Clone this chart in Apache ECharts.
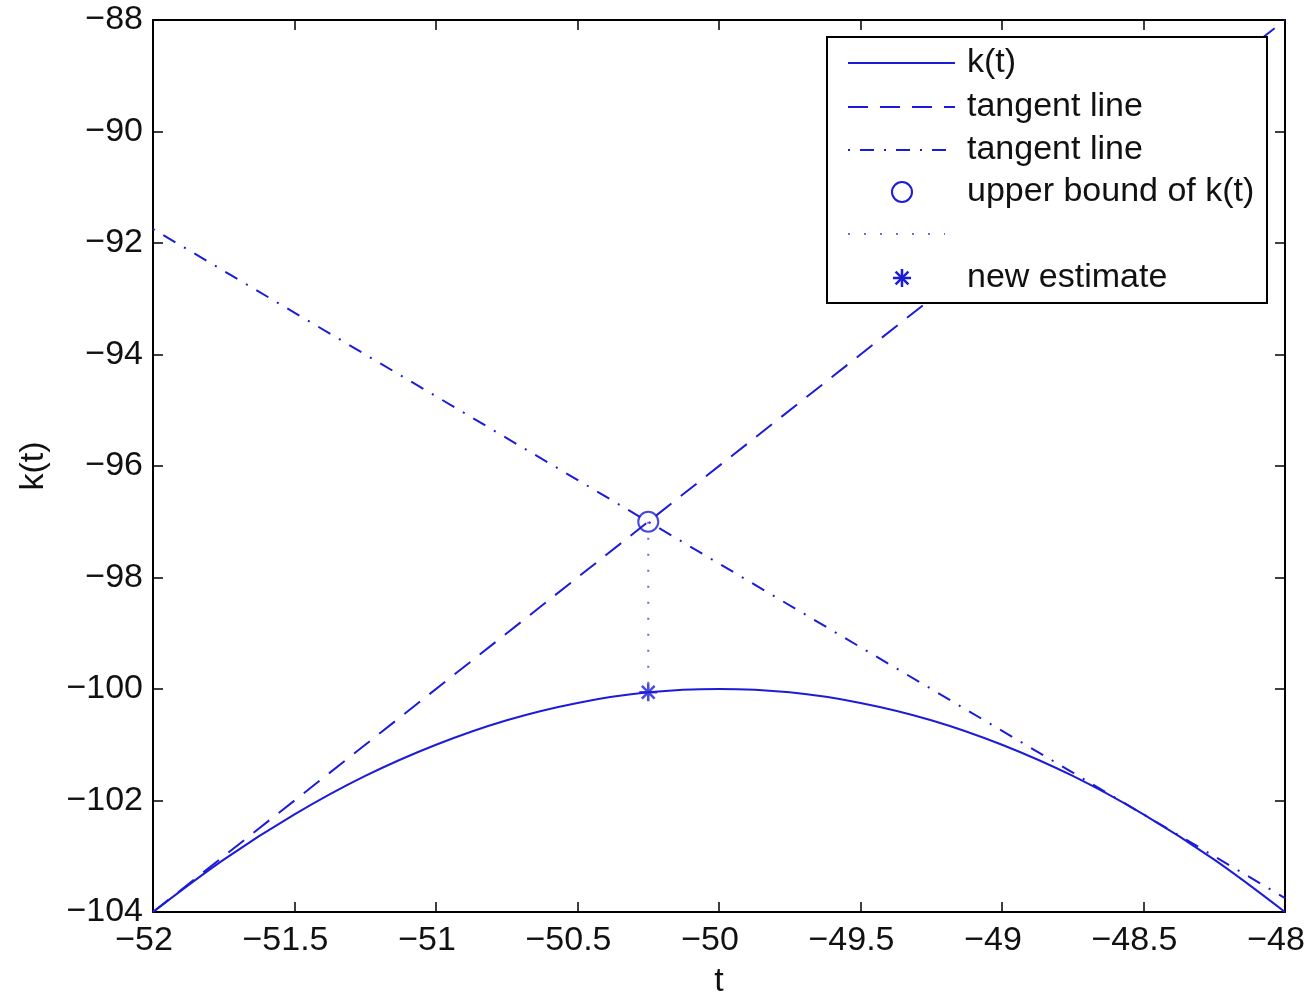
<!DOCTYPE html>
<html>
<head>
<meta charset="utf-8">
<script src="https://cdn.jsdelivr.net/npm/echarts@6/dist/echarts.min.js"></script>
<style>
  html, body { margin: 0; padding: 0; background: #fff; }
  #main { width: 1308px; height: 993px; }
</style>
</head>
<body>
<div id="main"></div>
<script>
// values
var tValues = [-52, -51.75, -51.5, -51.25, -51, -50.75, -50.5, -50.25, -50,
  -49.75, -49.5, -49.25, -49, -48.75, -48.5, -48.25, -48]
var kValues = [-104, -103.06, -102.25, -101.56, -101, -100.56, -100.25, -100.06, -100,
  -100.06, -100.25, -100.56, -101, -101.56, -102.25, -103.06, -104]
var tangent1 = [[-52, -104], [-48, -88]]
var tangent2 = [[-52, -91.75], [-48, -103.75]]
var upperBound = [[-50.25, -97]]
var dropLine = [[-50.25, -97], [-50.25, -100.06]]
var newEstimate = [[-50.25, -100.06]]
var legendNames = ['k(t)', 'tangent line', 'tangent line', 'upper bound of k(t)', '', 'new estimate']

var blue = '#1c1cd8'
var font = 'Liberation Sans, Arial, Helvetica, sans-serif'
var starPath = 'path://M-1.4,-10L1.4,-10L1.4,10L-1.4,10Z M-10,-1.4L10,-1.4L10,1.4L-10,1.4Z ' +
  'M8.06,6.08L6.08,8.06L-8.06,-6.08L-6.08,-8.06Z ' +
  'M-6.08,8.06L-8.06,6.08L6.08,-8.06L8.06,-6.08Z'

function minus (v) { return String(v).replace('-', '\u2212') }

var chart = echarts.init(document.getElementById('main'))

var kData = tValues.map(function (t, i) { return [t, kValues[i]] })

// legend drawn by hand so it looks like the matlab one
var lx = 848, lx2 = 955, tx = 967, mx = 902
var rows = [63, 107, 150, 192, 234, 278]
var legendGraphics = [
  { type: 'rect', shape: { x: 827, y: 37, width: 440, height: 266 },
    style: { fill: '#fff', stroke: '#000', lineWidth: 2 }, z: 100 },
  { type: 'line', shape: { x1: lx, y1: rows[0], x2: lx2, y2: rows[0] },
    style: { stroke: blue, lineWidth: 2 }, z: 101 },
  { type: 'line', shape: { x1: lx, y1: rows[1], x2: lx2, y2: rows[1] },
    style: { stroke: blue, lineWidth: 2, lineDash: [20, 12] }, z: 101 },
  { type: 'line', shape: { x1: lx, y1: rows[2], x2: lx2, y2: rows[2] },
    style: { stroke: blue, lineWidth: 2, lineDash: [2, 10, 14, 10] }, z: 101 },
  { type: 'circle', shape: { cx: mx, cy: rows[3], r: 10 },
    style: { fill: 'none', stroke: blue, lineWidth: 2 }, z: 101 },
  { type: 'line', shape: { x1: lx, y1: rows[4], x2: 945, y2: rows[4] },
    style: { stroke: '#6a6ad8', lineWidth: 2, lineDash: [2, 14] }, z: 101 }
]
// asterisk in the legend
;[[0, -9, 0, 9], [-9, 0, 9, 0], [-6.4, -6.4, 6.4, 6.4], [-6.4, 6.4, 6.4, -6.4]].forEach(function (s) {
  legendGraphics.push({ type: 'line', z: 101,
    shape: { x1: mx + s[0], y1: rows[5] + s[1], x2: mx + s[2], y2: rows[5] + s[3] },
    style: { stroke: blue, lineWidth: 2.5 } })
})
legendNames.forEach(function (name, i) {
  if (!name) return
  legendGraphics.push({ type: 'text', x: tx, y: rows[i], z: 101,
    style: { text: name, fill: '#111', font: '34px ' + font, textVerticalAlign: 'middle' } })
})

chart.setOption({
  animation: false,
  backgroundColor: '#fff',
  grid: { left: 153, top: 20, width: 1132, height: 892, outerBoundsMode: 'none', containLabel: false },
  xAxis: [{
    type: 'value', min: -52, max: -48, interval: 0.5, position: 'bottom',
    name: 't', nameLocation: 'middle', nameGap: 53,
    nameTextStyle: { fontSize: 34, fontFamily: font, color: '#111' },
    axisLine: { onZero: false, lineStyle: { color: '#000', width: 2 } },
    axisTick: { inside: true, length: 10, lineStyle: { color: '#000', width: 1.5 } },
    axisLabel: { margin: 12, fontSize: 34, fontFamily: font, color: '#111', formatter: minus,
      padding: [0, 18, 0, 0] },
    splitLine: { show: false }
  }, {
    type: 'value', min: -52, max: -48, interval: 0.5, position: 'top',
    axisLine: { onZero: false, lineStyle: { color: '#000', width: 2 } },
    axisTick: { inside: true, length: 10, lineStyle: { color: '#000', width: 1.5 } },
    axisLabel: { show: false },
    splitLine: { show: false }
  }],
  yAxis: [{
    type: 'value', min: -104, max: -88, interval: 2, position: 'left',
    name: 'k(t)', nameLocation: 'middle', nameGap: 102,
    nameTextStyle: { fontSize: 34, fontFamily: font, color: '#111' },
    axisLine: { onZero: false, lineStyle: { color: '#000', width: 2 } },
    axisTick: { inside: true, length: 10, lineStyle: { color: '#000', width: 1.5 } },
    axisLabel: { margin: 10, fontSize: 34, fontFamily: font, color: '#111', formatter: minus },
    splitLine: { show: false }
  }, {
    type: 'value', min: -104, max: -88, interval: 2, position: 'right',
    axisLine: { onZero: false, lineStyle: { color: '#000', width: 2 } },
    axisTick: { inside: true, length: 10, lineStyle: { color: '#000', width: 1.5 } },
    axisLabel: { show: false },
    splitLine: { show: false }
  }],
  graphic: legendGraphics,
  series: [
    { name: 'k(t)', type: 'line', data: kData, smooth: 0.35, showSymbol: false,
      lineStyle: { color: blue, width: 2 } },
    { name: 'tangent line', type: 'line', data: tangent1, showSymbol: false,
      lineStyle: { color: blue, width: 2, type: [20, 12] } },
    { name: 'tangent line 2', type: 'line', data: tangent2, showSymbol: false,
      lineStyle: { color: blue, width: 2, type: [2, 10, 14, 10] } },
    { name: 'dotted', type: 'line', data: dropLine, showSymbol: false,
      lineStyle: { color: '#6a6ad8', width: 2, type: [2, 14] } },
    { name: 'upper bound of k(t)', type: 'scatter', data: upperBound,
      symbol: 'circle', symbolSize: 20,
      itemStyle: { color: 'transparent', borderColor: blue, borderWidth: 2 } },
    { name: 'new estimate', type: 'scatter', data: newEstimate,
      symbol: starPath, symbolSize: 18, itemStyle: { color: blue } }
  ]
})
</script>
</body>
</html>
